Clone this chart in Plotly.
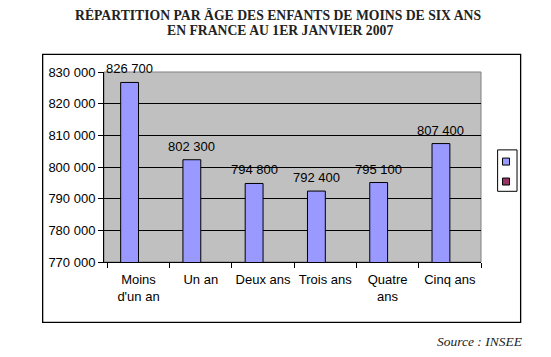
import plotly.graph_objects as go

categories = ["Moins<br>d'un an", "Un an", "Deux ans", "Trois ans", "Quatre<br>ans", "Cinq ans"]
values = [826700, 802300, 794800, 792400, 795100, 807400]
labels = ["826 700", "802 300", "794 800", "792 400", "795 100", "807 400"]
empty_series = [None] * 6
y_ticks = [770000, 780000, 790000, 800000, 810000, 820000, 830000]
y_tick_text = ["770 000", "780 000", "790 000", "800 000", "810 000", "820 000", "830 000"]

OFF = 8  # default page body margin in the browser
W, H = 551 - OFF, 357 - OFF
L, R, T, B = 104 - OFF, 480.7 - OFF, 72 - OFF, 262.3 - OFF  # plot area in figure pixels


def px(x):
    return (x - OFF - L) / (R - L)


def py(y):
    return (B - (y - OFF)) / (B - T)


fig = go.Figure()
fig.add_trace(go.Bar(x=categories, y=values, marker=dict(color="#9999FF", line=dict(color="#000000", width=1)),
                     showlegend=False, hoverinfo="y"))
fig.add_trace(go.Bar(x=categories, y=empty_series, marker=dict(color="#993366", line=dict(color="#000000", width=1)),
                     showlegend=False))

annotations = []
for c, v, t in zip(categories, values, labels):
    annotations.append(dict(x=c, y=v, xref="x", yref="y", text=t, showarrow=False,
                            yanchor="bottom", xanchor="center", xshift=-9, yshift=4,
                            font=dict(family="Liberation Sans, Arial", size=13, color="#000000")))

serif = "Liberation Serif, Times New Roman"
annotations += [
    dict(x=px(277.5), y=py(14.5), xref="paper", yref="paper", showarrow=False, yanchor="middle",
         text="<b>RÉPARTITION PAR ÂGE DES ENFANTS DE MOINS DE SIX ANS</b>",
         font=dict(family=serif, size=13.7, color="#222222")),
    dict(x=px(280), y=py(30), xref="paper", yref="paper", showarrow=False, yanchor="middle",
         text="<b>EN FRANCE AU 1ER JANVIER 2007</b>",
         font=dict(family=serif, size=13.7, color="#222222")),
    dict(x=px(525), y=py(341.5), xref="paper", yref="paper", showarrow=False, yanchor="middle", xanchor="right",
         text="<i>Source : INSEE</i>",
         font=dict(family=serif, size=13.5, color="#222222")),
]

shapes = [
    # outer chart frame
    dict(type="rect", xref="paper", yref="paper", x0=px(42.7), x1=px(520.3), y0=py(322.7), y1=py(54.3),
         line=dict(color="#000000", width=1.3), fillcolor="rgba(0,0,0,0)", layer="above"),
    # plot area border
    dict(type="rect", xref="paper", yref="paper", x0=0, x1=1, y0=0, y1=1,
         line=dict(color="#808080", width=1), fillcolor="rgba(0,0,0,0)", layer="below"),
    # legend box
    dict(type="rect", xref="paper", yref="paper", x0=px(497.3), x1=px(516.7), y0=py(191.5), y1=py(150),
         line=dict(color="#000000", width=1), fillcolor="#FFFFFF", layer="above"),
    dict(type="rect", xref="paper", yref="paper", x0=px(502.2), x1=px(509.2), y0=py(165.2), y1=py(158.2),
         line=dict(color="#000000", width=1), fillcolor="#9999FF", layer="above"),
    dict(type="rect", xref="paper", yref="paper", x0=px(502.2), x1=px(509.2), y0=py(185.2), y1=py(178.2),
         line=dict(color="#000000", width=1), fillcolor="#993366", layer="above"),
]

fig.update_layout(
    width=W, height=H,
    margin=dict(l=L, r=W - R, t=T, b=H - B, pad=0),
    paper_bgcolor="#FFFFFF",
    plot_bgcolor="#C0C0C0",
    barmode="group",
    bargap=0.427,
    bargroupgap=0,
    showlegend=False,
    annotations=annotations,
    shapes=shapes,
    font=dict(family="Liberation Sans, Arial", size=13, color="#000000"),
)
fig.update_xaxes(type="category", showline=True, linecolor="#000000", linewidth=1,
                 ticks="outside", tickson="boundaries", ticklen=5, tickcolor="#000000",
                 tickangle=0, ticklabelstandoff=5, showgrid=False,
                 tickfont=dict(size=13, color="#000000"), fixedrange=True)
fig.update_yaxes(range=[770000, 830000], tickvals=y_ticks, ticktext=y_tick_text,
                 showline=True, linecolor="#000000", linewidth=1,
                 ticks="outside", ticklen=5, tickcolor="#000000",
                 showgrid=True, gridcolor="#000000", gridwidth=1, zeroline=False,
                 tickfont=dict(size=13, color="#000000"), fixedrange=True)

fig.write_html("out.html")
